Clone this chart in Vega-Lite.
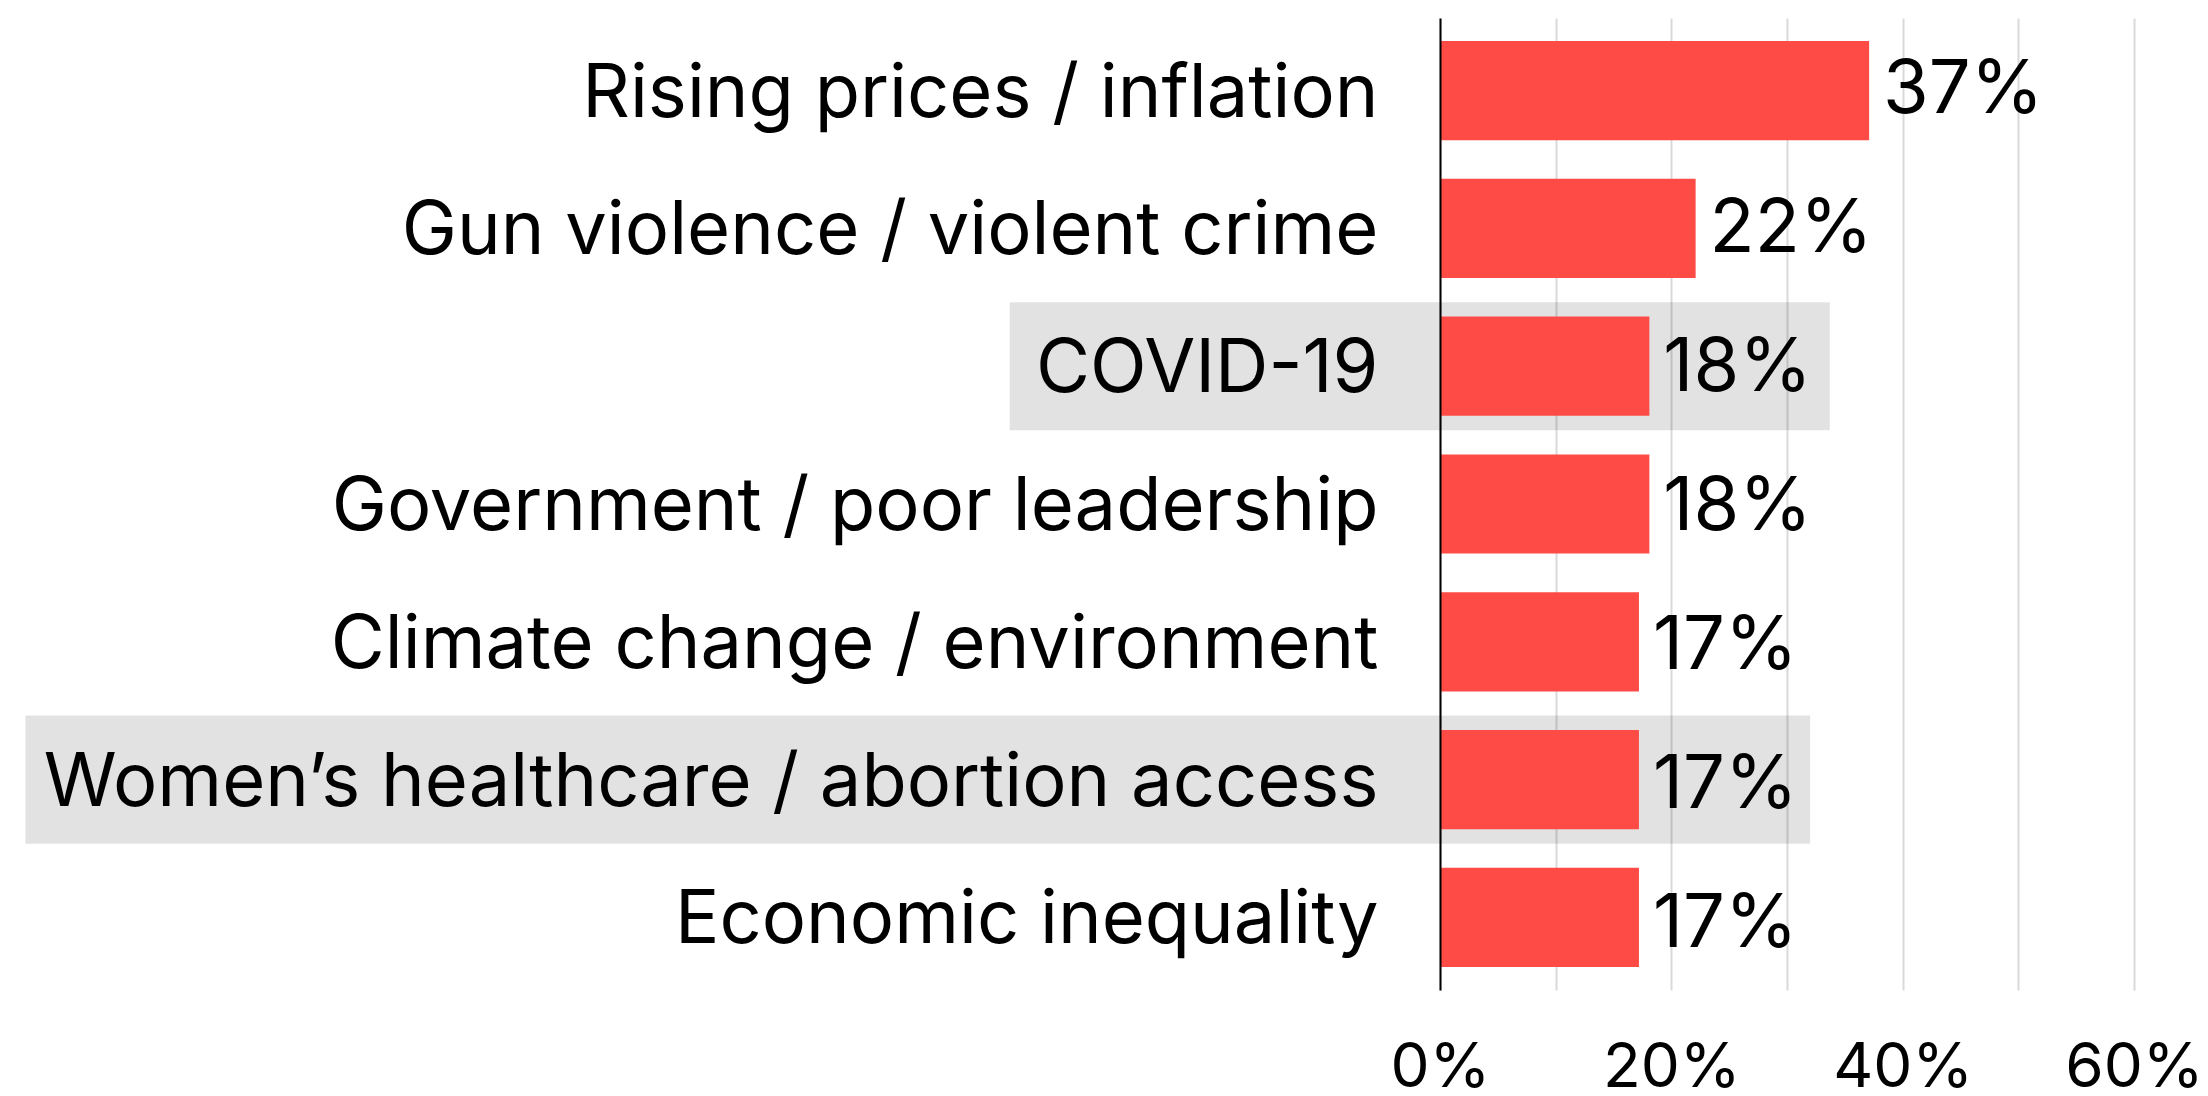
{
  "$schema": "https://vega.github.io/schema/vega-lite/v6.json",
  "width": 694,
  "height": 972,
  "autosize": {"type": "none"},
  "padding": {"left": 1440, "top": 18, "right": 74, "bottom": 106},
  "background": "#ffffff",
  "config": {
    "view": {"stroke": null},
    "font": "Inter",
    "axis": {"labelFont": "Inter", "labelColor": "#000000"}
  },
  "data": {
    "values": [
      {"issue": "Rising prices / inflation", "share": 0.371},
      {"issue": "Gun violence / violent crime", "share": 0.221},
      {"issue": "COVID-19", "share": 0.181, "hl_start": -0.372, "hl_end": 0.337},
      {"issue": "Government / poor leadership", "share": 0.181},
      {"issue": "Climate change / environment", "share": 0.172},
      {"issue": "Women’s healthcare / abortion access", "share": 0.172, "hl_start": -1.223, "hl_end": 0.32},
      {"issue": "Economic inequality", "share": 0.172}
    ]
  },
  "resolve": {"scale": {"y": "independent"}},
  "layer": [
    {
      "transform": [{"filter": "isValid(datum.hl_start)"}],
      "mark": {"type": "rect", "color": "#000000", "opacity": 0.114},
      "encoding": {
        "y": {
          "field": "issue", "type": "nominal", "sort": null,
          "scale": {"domain": ["Rising prices / inflation", "Gun violence / violent crime", "COVID-19", "Government / poor leadership", "Climate change / environment", "Women’s healthcare / abortion access", "Economic inequality"], "paddingInner": 0.07, "paddingOuter": 0.062},
          "axis": null
        },
        "x": {"field": "hl_start", "type": "quantitative", "scale": {"domain": [0, 0.6], "nice": false, "zero": false}},
        "x2": {"field": "hl_end"}
      }
    },
    {
      "mark": {"type": "bar", "color": "#ff4b46"},
      "encoding": {
        "y": {
          "field": "issue", "type": "nominal", "sort": null,
          "scale": {"domain": ["Rising prices / inflation", "Gun violence / violent crime", "COVID-19", "Government / poor leadership", "Climate change / environment", "Women’s healthcare / abortion access", "Economic inequality"], "paddingInner": 0.28, "paddingOuter": 0.167},
          "axis": {"title": null, "ticks": false, "domainColor": "#000000", "domainWidth": 2, "labelFontSize": 74, "labelPadding": 62, "labelLimit": 2000, "labelOffset": 4, "zindex": 1}
        },
        "x": {
          "field": "share", "type": "quantitative",
          "scale": {"domain": [0, 0.6], "nice": false},
          "axis": {"title": null, "values": [0, 0.1, 0.2, 0.3, 0.4, 0.5, 0.6], "labelExpr": "round(datum.value*100) % 20 == 0 ? format(datum.value, '.0%') : ''", "domain": false, "ticks": false, "grid": true, "gridColor": "#d9d9d9", "gridWidth": 2, "labelFontSize": 62, "labelPadding": 47, "labelFlush": false, "labelOverlap": false}
        }
      }
    },
    {
      "mark": {"type": "text", "align": "left", "baseline": "middle", "dx": 14, "dy": 4, "fontSize": 74, "color": "#000000"},
      "encoding": {
        "y": {"field": "issue", "type": "nominal", "sort": null,
          "scale": {"domain": ["Rising prices / inflation", "Gun violence / violent crime", "COVID-19", "Government / poor leadership", "Climate change / environment", "Women’s healthcare / abortion access", "Economic inequality"], "paddingInner": 0.28, "paddingOuter": 0.167},
          "axis": null},
        "x": {"field": "share", "type": "quantitative"},
        "text": {"field": "share", "type": "quantitative", "format": ".0%"}
      }
    }
  ]
}
